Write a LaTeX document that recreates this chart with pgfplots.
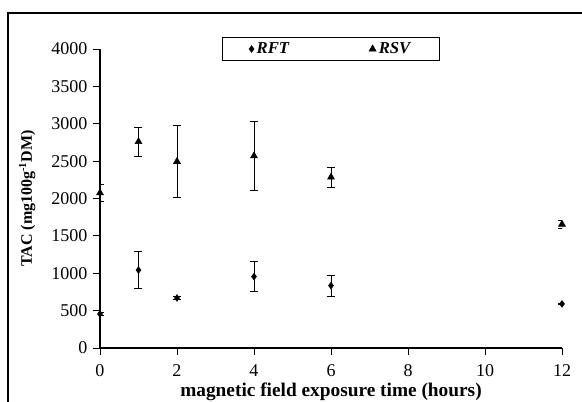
\documentclass[border=0pt]{standalone}
\usepackage{fontspec}
\setmainfont{Liberation Serif}
\usepackage{pgfplots}
\pgfplotsset{compat=1.18}
\begin{document}
\begin{tikzpicture}
\begin{axis}[scale only axis,width=346.5pt,height=224.25pt,
 xmin=0,xmax=12,ymin=0,ymax=4000,
 xtick={0,2,...,12},ytick={0,500,...,4000},
 axis lines*=left,tick align=outside,major tick length=5pt,
 tick style={black,line width=0.6pt},axis line style={line width=0.8pt},
 /pgf/number format/assume math mode=true,
 /pgf/number format/1000 sep={},
 ticklabel style={font=\fontsize{13.5}{15}\selectfont},
 yticklabel style={xshift=-1pt},
 xticklabel style={yshift=-4pt},
 xlabel={\textbf{magnetic field exposure time (hours)}},
 ylabel={\textbf{TAC (mg100g\textsuperscript{-1}DM)}},
 xlabel style={font=\fontsize{14.5}{16}\selectfont,yshift=2pt},
 ylabel style={font=\fontsize{12}{14}\selectfont,yshift=5pt},
 legend columns=2,
 legend style={at={(0.5,1)},anchor=center,draw=black,line width=0.6pt,
  font=\bfseries\itshape\fontsize{12.5}{14}\selectfont,
  /tikz/every even column/.append style={column sep=58pt},
  inner xsep=20pt,inner ysep=2pt},
 legend image post style={line width=0.4pt},
 error bars/error bar style={line width=0.6pt,black},
 error bars/error mark options={rotate=90,mark size=3pt,line width=0.6pt}]
\addplot[only marks,mark=diamond*,mark size=2.5pt,black,
 error bars/.cd,y dir=both,y explicit]
 coordinates {(0,455) +- (0,15) (1,1043) +- (0,250) (2,669) +- (0,20)
  (4,955) +- (0,200) (6,835) +- (0,140) (12,590) +- (0,12)};
\addlegendentry{RFT}
\addplot[only marks,mark=triangle*,mark size=3pt,black,
 error bars/.cd,y dir=both,y explicit]
 coordinates {(0,2075) +- (0,110) (1,2760) +- (0,195) (2,2495) +- (0,480)
  (4,2570) +- (0,460) (6,2285) +- (0,135) (12,1655) +- (0,50)};
\addlegendentry{RSV\hspace{8pt}}
\end{axis}
\draw[line width=0.8pt] (-69pt,-80pt) rectangle (420pt,251.25pt);
\pgfresetboundingbox
\useasboundingbox (-75pt,-39.75pt) rectangle (361.5pt,261pt);
\end{tikzpicture}
\end{document}
